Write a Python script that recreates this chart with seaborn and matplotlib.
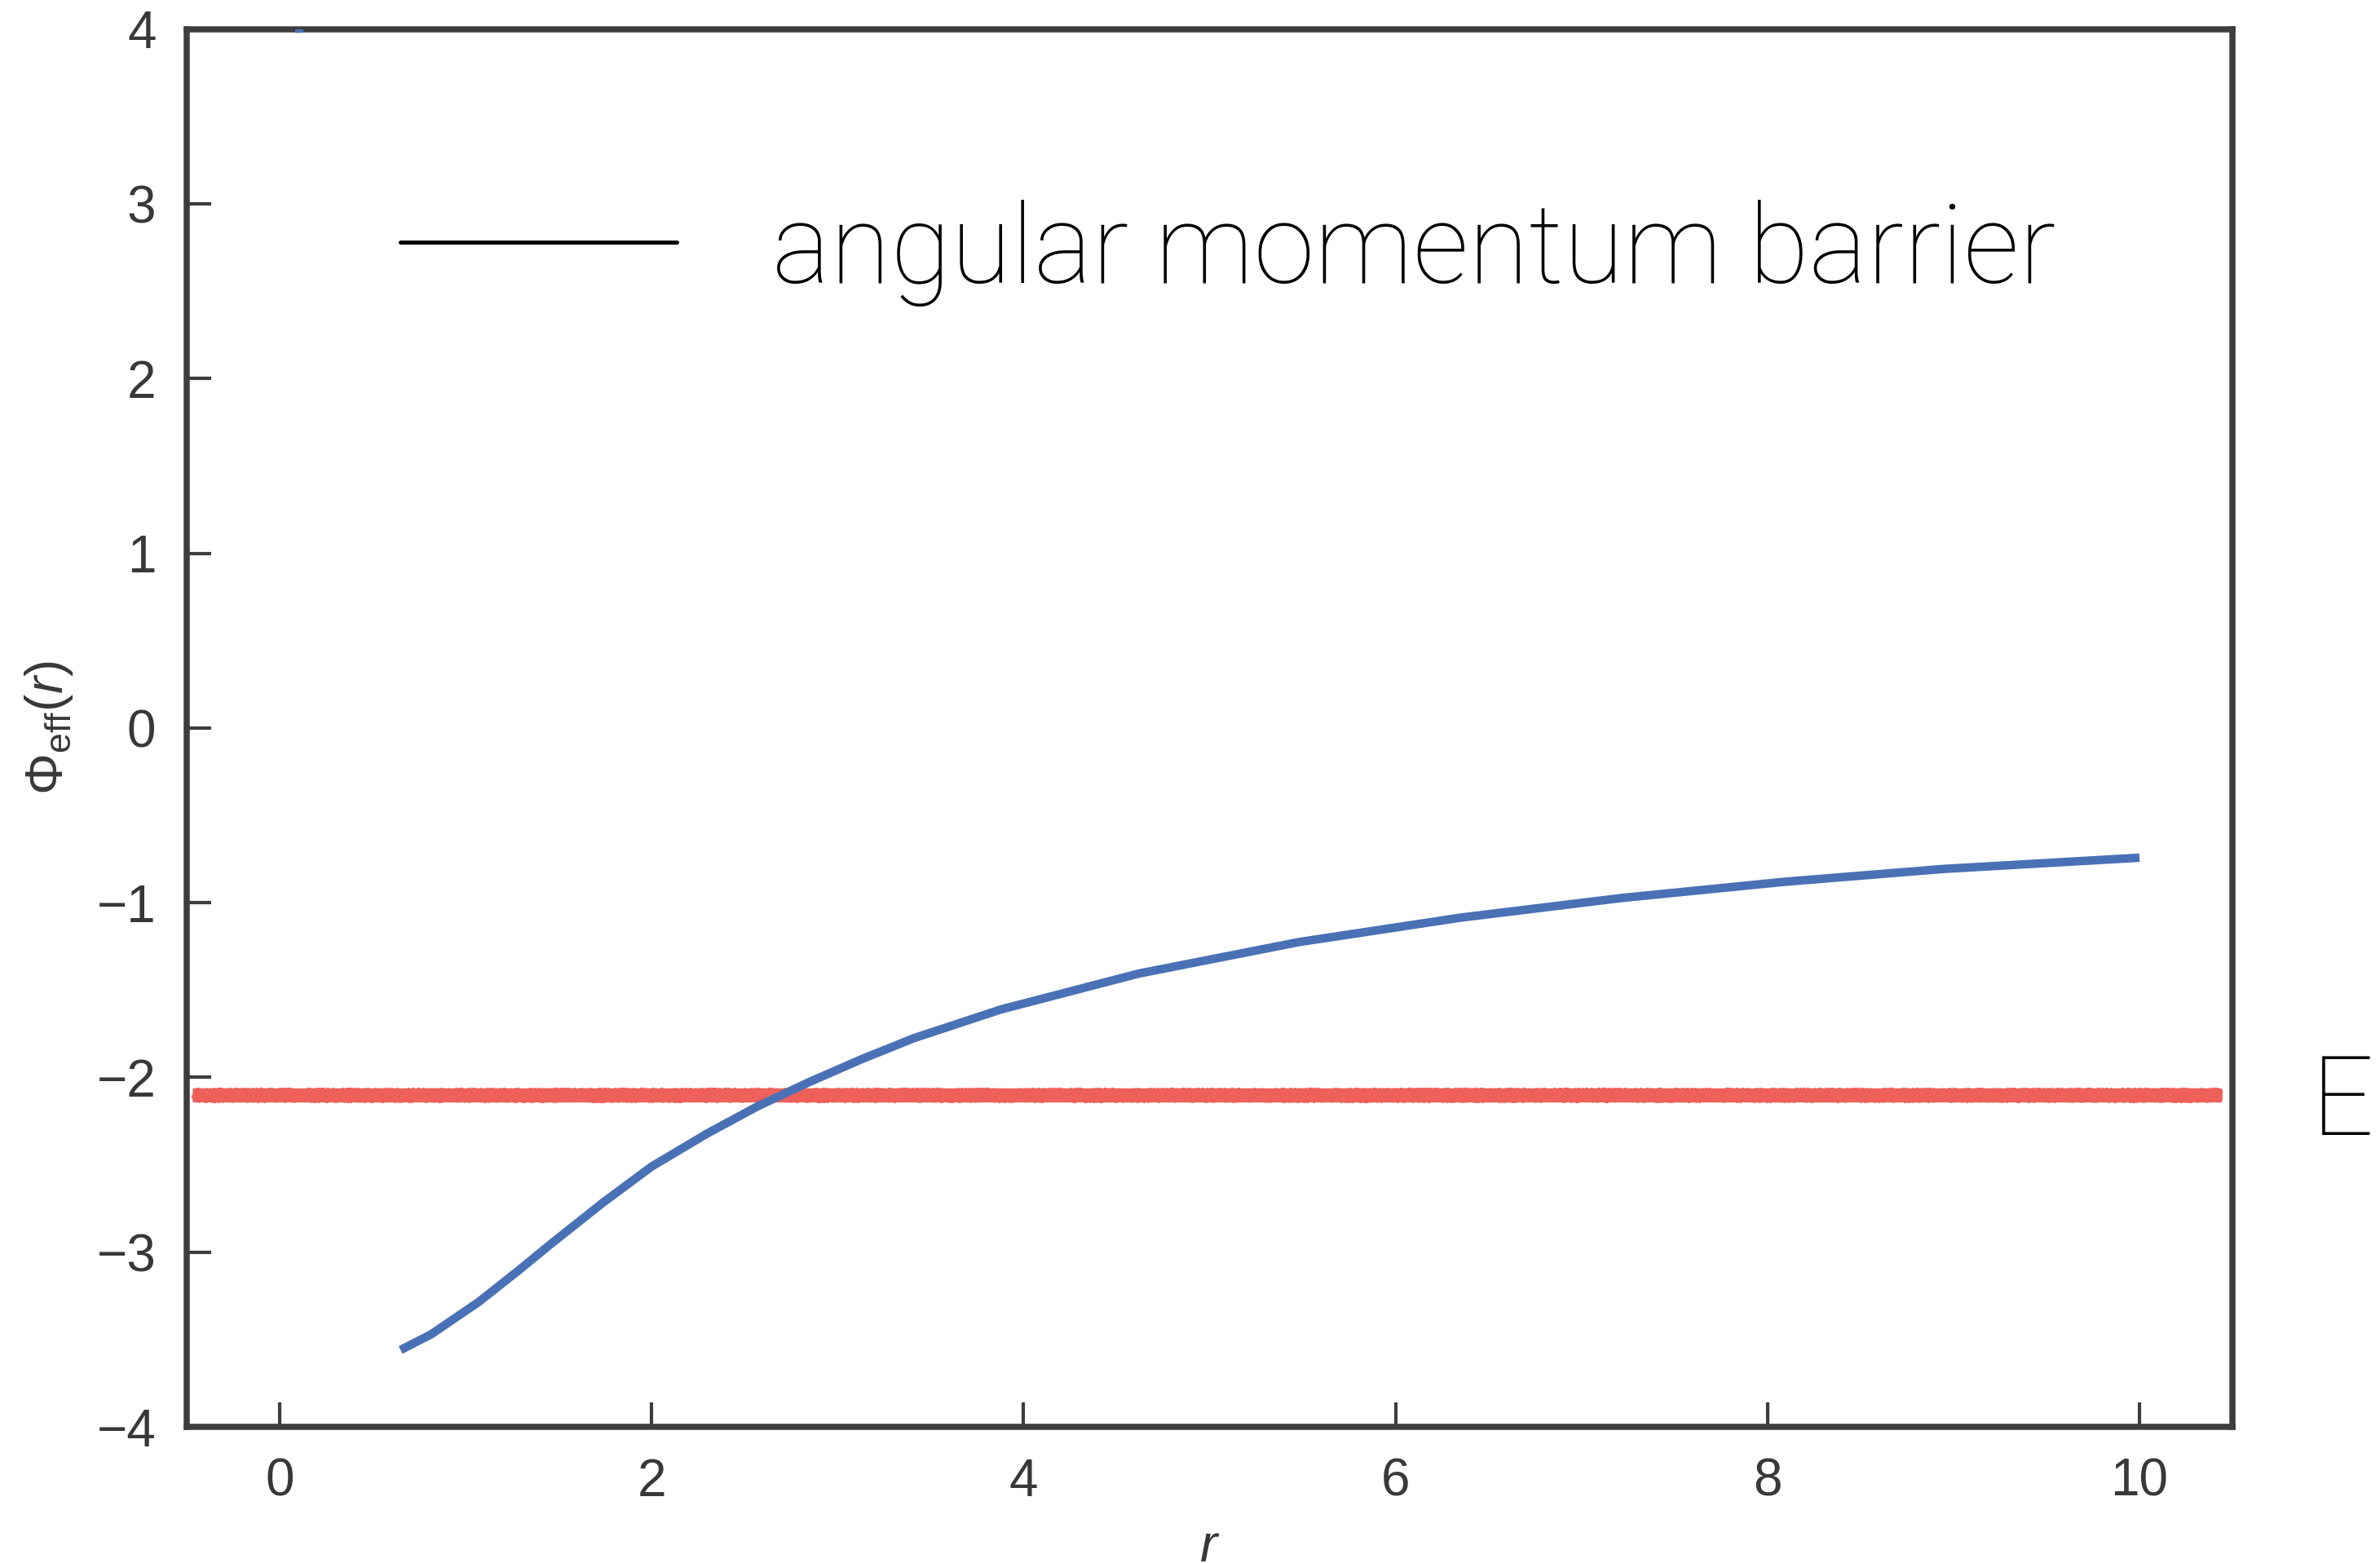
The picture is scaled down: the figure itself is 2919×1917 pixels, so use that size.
import numpy as np
import pandas as pd
import seaborn as sns
import matplotlib
matplotlib.use("Agg")
import matplotlib.pyplot as plt
from matplotlib.lines import Line2D

# ---- data ----
r_curve = [0.65, 0.815, 1.07, 1.29, 1.45, 1.74, 2.0, 2.3, 2.57, 2.85, 3.13, 3.41,
           3.88, 4.62, 5.48, 6.35, 7.22, 8.09, 8.95, 10.0]
phi_curve = [-3.56, -3.47, -3.285, -3.10, -2.96, -2.715, -2.51, -2.32, -2.165, -2.025,
             -1.895, -1.775, -1.61, -1.405, -1.225, -1.085, -0.972, -0.880, -0.806, -0.742]
r_stub = [0.100, 0.106]          # tiny visible remnant at the top edge
phi_stub = [4.25, 3.98]
r_energy = [-0.47, 10.44]
e_level = [-2.10, -2.10]
x_ticks = [0, 2, 4, 6, 8, 10]
y_ticks = [-4, -3, -2, -1, 0, 1, 2, 3, 4]
annot_text = "angular momentum barrier"
energy_text = "E"

W, H = 2919, 1917
DPI = 100

sns.set_theme(style="ticks")
plt.rcParams["font.family"] = ["Liberation Sans", "DejaVu Sans"]
plt.rcParams["mathtext.fontset"] = "custom"
plt.rcParams["mathtext.rm"] = "Liberation Sans"
plt.rcParams["mathtext.it"] = "Liberation Sans:italic"
plt.rcParams["mathtext.bf"] = "Liberation Sans:bold"

fig = plt.figure(figsize=(W / DPI, H / DPI), dpi=DPI)
fig.patch.set_facecolor("white")
ax = fig.add_axes([229 / W, (H - 1750) / H, (2738 - 229) / W, (1750 - 36) / H])

df_curve = pd.DataFrame({"r": r_curve, "phi": phi_curve})
df_stub = pd.DataFrame({"r": r_stub, "phi": phi_stub})
df_e = pd.DataFrame({"r": r_energy, "phi": e_level})

red = "#EE605A"
blue = "#4A71B5"

# energy level: thick core plus rough sketched edges
sns.lineplot(data=df_e, x="r", y="phi", ax=ax, color=red, lw=12.5,
             solid_capstyle="butt", zorder=2)
for lw_, sk in [(3.0, (7.0, 3.0, 10.0)), (2.5, (8.0, 2.0, 12.0)), (2.0, (6.0, 4.0, 8.0))]:
    sns.lineplot(data=df_e, x="r", y="phi", ax=ax, color=red, lw=lw_,
                 solid_capstyle="butt", zorder=2)
    ax.lines[-1].set_sketch_params(scale=sk[0], length=sk[1], randomness=sk[2])

sns.lineplot(data=df_curve, x="r", y="phi", ax=ax, color=blue, lw=7.5,
             solid_capstyle="butt", zorder=3)
sns.lineplot(data=df_stub, x="r", y="phi", ax=ax, color=blue, lw=7.5,
             solid_capstyle="butt", zorder=3)

ax.set_xlim(-0.5, 10.5)
ax.set_ylim(-4, 4)
ax.set_xticks(x_ticks)
ax.set_yticks(y_ticks)

spine_col = "#3d3d3d"
for s in ax.spines.values():
    s.set_linewidth(5.4)
    s.set_color(spine_col)
    s.set_visible(True)
ax.tick_params(direction="in", length=21.6, width=3.0, pad=27, labelsize=46,
               colors=spine_col, top=False, right=False)
for lab in ax.get_xticklabels() + ax.get_yticklabels():
    lab.set_color("#383838")

ax.set_xlabel("$r$", fontsize=46, color="#383838", va="top")
ax.xaxis.set_label_coords(0.5, (1750 - 1868) / (1750 - 36))
ax.set_ylabel(r"$\Phi_{\rm eff}(r)$", fontsize=46, color="#383838", va="center")
ax.yaxis.set_label_coords((60 - 229) / (2738 - 229), 0.5)

# overlay annotations (keynote style)
fig.add_artist(Line2D([491 / W, 830 / W], [1 - 297 / H] * 2, transform=fig.transFigure,
                      color="black", lw=3.6))
afam = ["Roboto", "Liberation Sans", "DejaVu Sans"]
t = fig.text(947 / W, 1 - 347 / H, annot_text, fontsize=97, family=afam,
             weight="light", color="black", ha="left", va="baseline")
fig.canvas.draw()
bb = t.get_window_extent(fig.canvas.get_renderer())
fs = 97 * (2522 - 947) / bb.width
t.set_fontsize(fs)
fig.text(2835 / W, 1 - 1392 / H, energy_text, fontsize=fs, family=afam,
         weight="light", color="black", ha="left", va="baseline")

fig.savefig("out.png", dpi=DPI, facecolor="white")
